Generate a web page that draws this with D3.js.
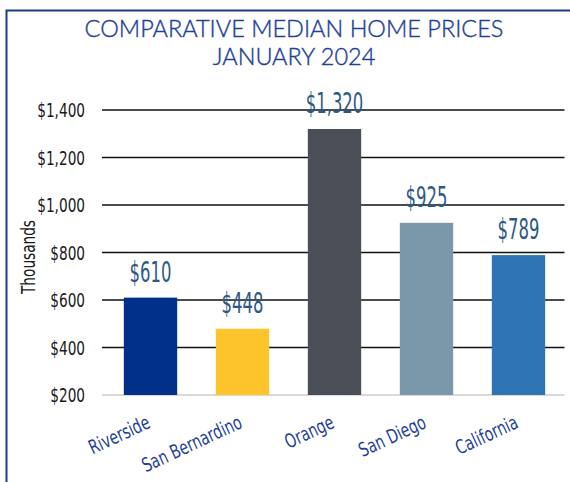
<!DOCTYPE html>
<html>
<head>
<meta charset="utf-8">
<script src="https://cdn.jsdelivr.net/npm/d3@7"></script>
<style>
  body { margin: 0; background: #fff; }
  .cond { font-family: 'Liberation Sans Narrow', 'DejaVu Sans Condensed', sans-serif; font-stretch: condensed; }
</style>
</head>
<body>
<svg class="chart" width="570" height="482"></svg>
<script>
const regions = ['Riverside', 'San Bernardino', 'Orange', 'San Diego', 'California'];
// bar heights as drawn (thousands) and the data labels printed above them
const barValues = [610, 479, 1320, 925, 789];
const valueLabels = ['$610', '$448', '$1,320', '$925', '$789'];
const barColors = ['#003087', '#fdc52b', '#4a4f57', '#7b97aa', '#2f74b5'];
const yTicks = [200, 400, 600, 800, 1000, 1200, 1400];
const titleLines = ['COMPARATIVE MEDIAN HOME PRICES', 'JANUARY 2024'];

const startApp = () => {
  const svg = d3.select('.chart');
  const plot = { left: 104.5, right: 564.5, top: 110, bottom: 395 };
  const squeeze = 0.8;

  svg.append('rect')
    .attr('x', 6.5).attr('y', 10.5)
    .attr('width', 600).attr('height', 520)
    .attr('fill', 'none')
    .attr('stroke', '#1f3c88')
    .attr('stroke-width', 2);

  svg.selectAll('.title')
    .data(titleLines)
    .enter()
    .append('text')
    .attr('class', 'title')
    .attr('x', 294)
    .attr('y', (d, i) => 37 + i * 28)
    .attr('text-anchor', 'middle')
    .attr('font-family', 'Lato, sans-serif')
    .attr('font-weight', 300)
    .attr('font-size', 23.5)
    .attr('fill', '#1f3f99')
    .attr('stroke', '#1f3f99')
    .attr('stroke-width', 0.4)
    .text(d => d);

  const xScale = d3.scaleBand()
    .domain(regions)
    .range([plot.left, plot.right])
    .paddingInner(0.42)
    .paddingOuter(0.21);
  const yScale = d3.scaleLinear()
    .domain([200, 1400])
    .range([plot.bottom, plot.top]);

  // gridlines
  svg.selectAll('.grid')
    .data(yTicks)
    .enter()
    .append('line')
    .attr('x1', 102).attr('x2', plot.right)
    .attr('y1', d => yScale(d)).attr('y2', d => yScale(d))
    .attr('stroke', d => d === 200 ? '#d9d9d9' : '#111')
    .attr('stroke-width', d => d === 200 ? 2 : 1.5);

  const yAxis = d3.axisLeft(yScale)
    .tickValues(yTicks)
    .tickSize(0)
    .tickFormat(d => '$' + d3.format(',')(d));
  const yg = svg.append('g')
    .attr('transform', `translate(${plot.left},0)`)
    .call(yAxis);
  yg.select('.domain').remove();
  yg.selectAll('text')
    .attr('class', 'cond')
    .attr('font-size', 19)
    .attr('fill', '#1a1a1a')
    .attr('x', -19.5 / squeeze)
    .attr('dy', '0.35em')
    .attr('transform', `scale(${squeeze},1)`);

  svg.append('text')
    .attr('class', 'cond')
    .attr('transform', `translate(35,257) rotate(-90) scale(${squeeze},1)`)
    .attr('text-anchor', 'middle')
    .attr('font-size', 19)
    .attr('fill', '#1a1a1a')
    .text('Thousands');

  svg.selectAll('.bar')
    .data(regions)
    .enter()
    .append('rect')
    .attr('x', d => xScale(d))
    .attr('y', (d, i) => yScale(barValues[i]))
    .attr('width', xScale.bandwidth())
    .attr('height', (d, i) => yScale(200) - yScale(barValues[i]))
    .attr('fill', (d, i) => barColors[i]);

  svg.selectAll('.vlabel')
    .data(regions)
    .enter()
    .append('text')
    .attr('class', 'cond')
    .attr('transform', (d, i) => `translate(${xScale(d) + xScale.bandwidth() / 2},${yScale(barValues[i]) - 16}) scale(0.63,1)`)
    .attr('text-anchor', 'middle')
    .attr('font-size', 29)
    .attr('fill', '#2c5986')
    .text((d, i) => valueLabels[i]);

  svg.selectAll('.xlabel')
    .data(regions)
    .enter()
    .append('text')
    .attr('class', 'cond')
    .attr('transform', d => `translate(${xScale(d) + xScale.bandwidth() / 2 + 1},427) rotate(-25) scale(${squeeze},1)`)
    .attr('text-anchor', 'end')
    .attr('font-size', 19.5)
    .attr('fill', '#1f3f99')
    .text(d => d);
};

window.onload = startApp;
</script>
</body>
</html>
